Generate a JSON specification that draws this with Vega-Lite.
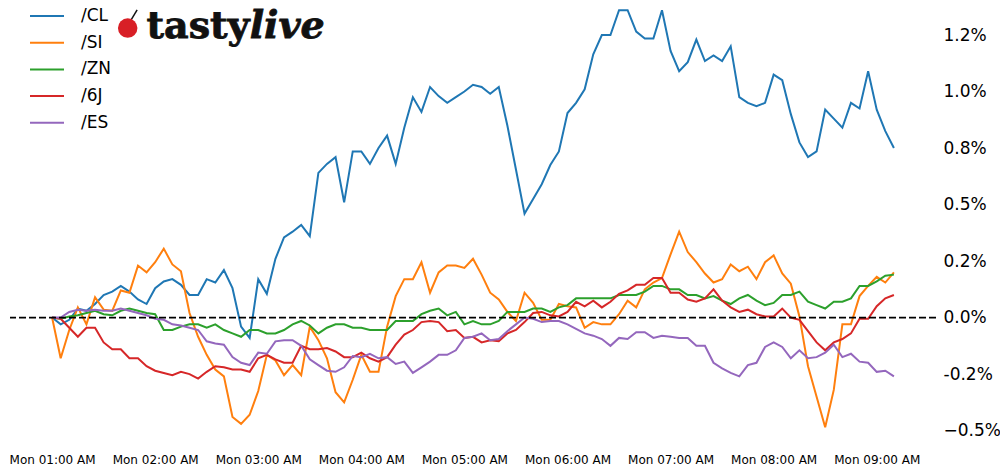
{
  "$schema": "https://vega.github.io/schema/vega-lite/v6.json",
  "autosize": {"type": "none"},
  "padding": {"left": 10, "top": 0, "right": 64, "bottom": 24},
  "width": 926,
  "height": 448,
  "background": "white",
  "config": {"view": {"stroke": null}, "font": "DejaVu Sans"},
  "data": {"values": [
    {"t":"2024-01-01T01:00","CL":0,"SI":0,"ZN":0,"6J":0,"ES":0},
    {"t":"2024-01-01T01:05","CL":-0.03,"SI":-0.18,"ZN":-0.005,"6J":-0.005,"ES":0},
    {"t":"2024-01-01T01:10","CL":-0.01,"SI":-0.055,"ZN":0.005,"6J":-0.045,"ES":0.025},
    {"t":"2024-01-01T01:15","CL":0.04,"SI":0.045,"ZN":0.01,"6J":-0.085,"ES":0.035},
    {"t":"2024-01-01T01:20","CL":0.03,"SI":-0.03,"ZN":0.02,"6J":-0.045,"ES":0.03},
    {"t":"2024-01-01T01:25","CL":0.06,"SI":0.09,"ZN":0.03,"6J":-0.045,"ES":0.035},
    {"t":"2024-01-01T01:30","CL":0.10,"SI":0.035,"ZN":0.015,"6J":-0.11,"ES":0.03},
    {"t":"2024-01-01T01:35","CL":0.115,"SI":0.03,"ZN":0.01,"6J":-0.14,"ES":0.03},
    {"t":"2024-01-01T01:40","CL":0.14,"SI":0.12,"ZN":0.03,"6J":-0.14,"ES":0.04},
    {"t":"2024-01-01T01:45","CL":0.115,"SI":0.11,"ZN":0.04,"6J":-0.18,"ES":0.03},
    {"t":"2024-01-01T01:50","CL":0.08,"SI":0.23,"ZN":0.03,"6J":-0.18,"ES":0.02},
    {"t":"2024-01-01T01:55","CL":0.06,"SI":0.20,"ZN":0.02,"6J":-0.215,"ES":0.01},
    {"t":"2024-01-01T02:00","CL":0.13,"SI":0.245,"ZN":0.015,"6J":-0.235,"ES":-0.005},
    {"t":"2024-01-01T02:05","CL":0.16,"SI":0.305,"ZN":-0.055,"6J":-0.245,"ES":-0.01},
    {"t":"2024-01-01T02:10","CL":0.17,"SI":0.235,"ZN":-0.055,"6J":-0.255,"ES":-0.03},
    {"t":"2024-01-01T02:15","CL":0.145,"SI":0.205,"ZN":-0.04,"6J":-0.24,"ES":-0.035},
    {"t":"2024-01-01T02:20","CL":0.10,"SI":0.02,"ZN":-0.03,"6J":-0.25,"ES":-0.045},
    {"t":"2024-01-01T02:25","CL":0.10,"SI":-0.085,"ZN":-0.03,"6J":-0.27,"ES":-0.055},
    {"t":"2024-01-01T02:30","CL":0.17,"SI":-0.165,"ZN":-0.045,"6J":-0.24,"ES":-0.105},
    {"t":"2024-01-01T02:35","CL":0.155,"SI":-0.23,"ZN":-0.03,"6J":-0.215,"ES":-0.115},
    {"t":"2024-01-01T02:40","CL":0.21,"SI":-0.26,"ZN":-0.055,"6J":-0.22,"ES":-0.12},
    {"t":"2024-01-01T02:45","CL":0.13,"SI":-0.44,"ZN":-0.07,"6J":-0.23,"ES":-0.175},
    {"t":"2024-01-01T02:50","CL":-0.04,"SI":-0.47,"ZN":-0.085,"6J":-0.23,"ES":-0.20},
    {"t":"2024-01-01T02:55","CL":-0.09,"SI":-0.43,"ZN":-0.055,"6J":-0.24,"ES":-0.21},
    {"t":"2024-01-01T03:00","CL":0.17,"SI":-0.325,"ZN":-0.055,"6J":-0.18,"ES":-0.155},
    {"t":"2024-01-01T03:05","CL":0.105,"SI":-0.165,"ZN":-0.07,"6J":-0.165,"ES":-0.16},
    {"t":"2024-01-01T03:10","CL":0.26,"SI":-0.19,"ZN":-0.07,"6J":-0.185,"ES":-0.105},
    {"t":"2024-01-01T03:15","CL":0.355,"SI":-0.255,"ZN":-0.055,"6J":-0.20,"ES":-0.10},
    {"t":"2024-01-01T03:20","CL":0.38,"SI":-0.21,"ZN":-0.03,"6J":-0.20,"ES":-0.10},
    {"t":"2024-01-01T03:25","CL":0.41,"SI":-0.255,"ZN":-0.015,"6J":-0.125,"ES":-0.125},
    {"t":"2024-01-01T03:30","CL":0.36,"SI":-0.04,"ZN":-0.035,"6J":-0.14,"ES":-0.185},
    {"t":"2024-01-01T03:35","CL":0.64,"SI":-0.10,"ZN":-0.07,"6J":-0.14,"ES":-0.21},
    {"t":"2024-01-01T03:40","CL":0.68,"SI":-0.18,"ZN":-0.045,"6J":-0.135,"ES":-0.235},
    {"t":"2024-01-01T03:45","CL":0.71,"SI":-0.33,"ZN":-0.03,"6J":-0.15,"ES":-0.24},
    {"t":"2024-01-01T03:50","CL":0.51,"SI":-0.375,"ZN":-0.03,"6J":-0.175,"ES":-0.22},
    {"t":"2024-01-01T03:55","CL":0.735,"SI":-0.275,"ZN":-0.045,"6J":-0.175,"ES":-0.17},
    {"t":"2024-01-01T04:00","CL":0.735,"SI":-0.165,"ZN":-0.045,"6J":-0.155,"ES":-0.175},
    {"t":"2024-01-01T04:05","CL":0.68,"SI":-0.24,"ZN":-0.055,"6J":-0.18,"ES":-0.16},
    {"t":"2024-01-01T04:10","CL":0.75,"SI":-0.24,"ZN":-0.055,"6J":-0.195,"ES":-0.18},
    {"t":"2024-01-01T04:15","CL":0.805,"SI":-0.04,"ZN":-0.055,"6J":-0.175,"ES":-0.175},
    {"t":"2024-01-01T04:20","CL":0.68,"SI":0.095,"ZN":-0.015,"6J":-0.12,"ES":-0.205},
    {"t":"2024-01-01T04:25","CL":0.84,"SI":0.17,"ZN":-0.015,"6J":-0.075,"ES":-0.195},
    {"t":"2024-01-01T04:30","CL":0.975,"SI":0.17,"ZN":-0.015,"6J":-0.055,"ES":-0.245},
    {"t":"2024-01-01T04:35","CL":0.91,"SI":0.245,"ZN":0.015,"6J":-0.02,"ES":-0.22},
    {"t":"2024-01-01T04:40","CL":1.02,"SI":0.11,"ZN":0.03,"6J":-0.015,"ES":-0.195},
    {"t":"2024-01-01T04:45","CL":0.98,"SI":0.20,"ZN":0.04,"6J":-0.02,"ES":-0.165},
    {"t":"2024-01-01T04:50","CL":0.95,"SI":0.23,"ZN":0.01,"6J":-0.06,"ES":-0.165},
    {"t":"2024-01-01T04:55","CL":0.975,"SI":0.23,"ZN":0.025,"6J":-0.055,"ES":-0.145},
    {"t":"2024-01-01T05:00","CL":1.0,"SI":0.22,"ZN":-0.03,"6J":-0.09,"ES":-0.09},
    {"t":"2024-01-01T05:05","CL":1.03,"SI":0.26,"ZN":-0.015,"6J":-0.085,"ES":-0.085},
    {"t":"2024-01-01T05:10","CL":1.02,"SI":0.19,"ZN":-0.03,"6J":-0.11,"ES":-0.07},
    {"t":"2024-01-01T05:15","CL":0.99,"SI":0.11,"ZN":-0.03,"6J":-0.10,"ES":-0.10},
    {"t":"2024-01-01T05:20","CL":1.02,"SI":0.08,"ZN":-0.015,"6J":-0.105,"ES":-0.095},
    {"t":"2024-01-01T05:25","CL":0.85,"SI":0.025,"ZN":0.025,"6J":-0.07,"ES":-0.06},
    {"t":"2024-01-01T05:30","CL":0.655,"SI":-0.015,"ZN":0.025,"6J":-0.055,"ES":-0.03},
    {"t":"2024-01-01T05:35","CL":0.46,"SI":0.11,"ZN":0.025,"6J":-0.02,"ES":0.0},
    {"t":"2024-01-01T05:40","CL":0.525,"SI":0.065,"ZN":0.04,"6J":0.02,"ES":-0.005},
    {"t":"2024-01-01T05:45","CL":0.59,"SI":-0.01,"ZN":0.04,"6J":0.025,"ES":-0.02},
    {"t":"2024-01-01T05:50","CL":0.675,"SI":-0.01,"ZN":0.025,"6J":0.01,"ES":-0.015},
    {"t":"2024-01-01T05:55","CL":0.735,"SI":0.06,"ZN":0.045,"6J":0.005,"ES":-0.015},
    {"t":"2024-01-01T06:00","CL":0.905,"SI":0.05,"ZN":0.055,"6J":0.025,"ES":-0.03},
    {"t":"2024-01-01T06:05","CL":0.95,"SI":0.045,"ZN":0.085,"6J":0.07,"ES":-0.05},
    {"t":"2024-01-01T06:10","CL":1.01,"SI":-0.045,"ZN":0.085,"6J":0.05,"ES":-0.07},
    {"t":"2024-01-01T06:15","CL":1.165,"SI":-0.02,"ZN":0.085,"6J":0.075,"ES":-0.08},
    {"t":"2024-01-01T06:20","CL":1.25,"SI":-0.03,"ZN":0.085,"6J":0.045,"ES":-0.095},
    {"t":"2024-01-01T06:25","CL":1.25,"SI":-0.03,"ZN":0.085,"6J":0.07,"ES":-0.125},
    {"t":"2024-01-01T06:30","CL":1.36,"SI":0.015,"ZN":0.10,"6J":0.105,"ES":-0.09},
    {"t":"2024-01-01T06:35","CL":1.36,"SI":0.075,"ZN":0.10,"6J":0.12,"ES":-0.095},
    {"t":"2024-01-01T06:40","CL":1.265,"SI":0.045,"ZN":0.10,"6J":0.145,"ES":-0.065},
    {"t":"2024-01-01T06:45","CL":1.235,"SI":0.125,"ZN":0.115,"6J":0.145,"ES":-0.065},
    {"t":"2024-01-01T06:50","CL":1.235,"SI":0.155,"ZN":0.14,"6J":0.175,"ES":-0.09},
    {"t":"2024-01-01T06:55","CL":1.36,"SI":0.175,"ZN":0.14,"6J":0.175,"ES":-0.08},
    {"t":"2024-01-01T07:00","CL":1.18,"SI":0.28,"ZN":0.125,"6J":0.11,"ES":-0.085},
    {"t":"2024-01-01T07:05","CL":1.09,"SI":0.38,"ZN":0.125,"6J":0.11,"ES":-0.09},
    {"t":"2024-01-01T07:10","CL":1.13,"SI":0.29,"ZN":0.10,"6J":0.08,"ES":-0.09},
    {"t":"2024-01-01T07:15","CL":1.23,"SI":0.245,"ZN":0.10,"6J":0.07,"ES":-0.125},
    {"t":"2024-01-01T07:20","CL":1.135,"SI":0.195,"ZN":0.085,"6J":0.085,"ES":-0.125},
    {"t":"2024-01-01T07:25","CL":1.16,"SI":0.155,"ZN":0.095,"6J":0.125,"ES":-0.20},
    {"t":"2024-01-01T07:30","CL":1.135,"SI":0.17,"ZN":0.075,"6J":0.075,"ES":-0.225},
    {"t":"2024-01-01T07:35","CL":1.20,"SI":0.235,"ZN":0.06,"6J":0.045,"ES":-0.245},
    {"t":"2024-01-01T07:40","CL":0.975,"SI":0.205,"ZN":0.085,"6J":0.025,"ES":-0.26},
    {"t":"2024-01-01T07:45","CL":0.95,"SI":0.225,"ZN":0.10,"6J":0.035,"ES":-0.21},
    {"t":"2024-01-01T07:50","CL":0.935,"SI":0.17,"ZN":0.075,"6J":0.015,"ES":-0.20},
    {"t":"2024-01-01T07:55","CL":0.95,"SI":0.245,"ZN":0.055,"6J":0.005,"ES":-0.13},
    {"t":"2024-01-01T08:00","CL":1.075,"SI":0.275,"ZN":0.065,"6J":0.005,"ES":-0.11},
    {"t":"2024-01-01T08:05","CL":1.05,"SI":0.195,"ZN":0.10,"6J":0.04,"ES":-0.13},
    {"t":"2024-01-01T08:10","CL":0.90,"SI":0.15,"ZN":0.10,"6J":0.0,"ES":-0.18},
    {"t":"2024-01-01T08:15","CL":0.775,"SI":0.005,"ZN":0.115,"6J":-0.01,"ES":-0.145},
    {"t":"2024-01-01T08:20","CL":0.71,"SI":-0.215,"ZN":0.07,"6J":-0.06,"ES":-0.18},
    {"t":"2024-01-01T08:25","CL":0.735,"SI":-0.35,"ZN":0.055,"6J":-0.11,"ES":-0.175},
    {"t":"2024-01-01T08:30","CL":0.92,"SI":-0.485,"ZN":0.04,"6J":-0.145,"ES":-0.155},
    {"t":"2024-01-01T08:35","CL":0.88,"SI":-0.32,"ZN":0.07,"6J":-0.11,"ES":-0.12},
    {"t":"2024-01-01T08:40","CL":0.84,"SI":-0.03,"ZN":0.07,"6J":-0.095,"ES":-0.175},
    {"t":"2024-01-01T08:45","CL":0.95,"SI":-0.03,"ZN":0.085,"6J":-0.07,"ES":-0.16},
    {"t":"2024-01-01T08:50","CL":0.925,"SI":0.095,"ZN":0.14,"6J":-0.005,"ES":-0.195},
    {"t":"2024-01-01T08:55","CL":1.09,"SI":0.14,"ZN":0.14,"6J":-0.005,"ES":-0.20},
    {"t":"2024-01-01T09:00","CL":0.92,"SI":0.18,"ZN":0.16,"6J":0.05,"ES":-0.24},
    {"t":"2024-01-01T09:05","CL":0.825,"SI":0.155,"ZN":0.185,"6J":0.085,"ES":-0.235},
    {"t":"2024-01-01T09:10","CL":0.75,"SI":0.20,"ZN":0.19,"6J":0.10,"ES":-0.26}
  ]},
  "layer": [
    {
      "transform": [{"fold": ["CL", "SI", "ZN", "6J", "ES"], "as": ["series", "value"]}],
      "mark": {"type": "line", "strokeWidth": 2, "interpolate": "linear"},
      "encoding": {
        "x": {
          "field": "t", "type": "temporal",
          "scale": {"domain": [
            {"year": 2024, "month": 1, "date": 1, "hours": 0, "minutes": 35, "seconds": 30},
            {"year": 2024, "month": 1, "date": 1, "hours": 9, "minutes": 34, "seconds": 30}
          ], "nice": false},
          "axis": {
            "title": null, "format": "%a %I:%M %p", "domain": false, "ticks": false, "grid": false,
            "labelFontSize": 12, "labelColor": "#000", "labelPadding": 6, "labelFont": "DejaVu Sans",
            "values": [
              {"year": 2024, "month": 1, "date": 1, "hours": 1},
              {"year": 2024, "month": 1, "date": 1, "hours": 2},
              {"year": 2024, "month": 1, "date": 1, "hours": 3},
              {"year": 2024, "month": 1, "date": 1, "hours": 4},
              {"year": 2024, "month": 1, "date": 1, "hours": 5},
              {"year": 2024, "month": 1, "date": 1, "hours": 6},
              {"year": 2024, "month": 1, "date": 1, "hours": 7},
              {"year": 2024, "month": 1, "date": 1, "hours": 8},
              {"year": 2024, "month": 1, "date": 1, "hours": 9}
            ],
            "labelOverlap": false
          }
        },
        "y": {
          "field": "value", "type": "quantitative",
          "scale": {"domain": [-0.577, 1.405], "nice": false, "zero": false},
          "axis": {
            "orient": "right", "title": null, "domain": false, "ticks": false, "grid": false,
            "values": [-0.5, -0.25, 0, 0.25, 0.5, 0.75, 1.0, 1.25],
            "labelExpr": "datum.value == 1.25 ? '1.2%' : datum.value == 0.75 ? '0.8%' : datum.value == 0.25 ? '0.2%' : datum.value == -0.25 ? '-0.2%' : format(datum.value, '.1f') + '%'",
            "labelFontSize": 17, "labelColor": "#000", "labelPadding": 7, "labelFont": "DejaVu Sans"
          }
        },
        "color": {
          "field": "series", "type": "nominal",
          "scale": {"domain": ["CL", "SI", "ZN", "6J", "ES"], "range": ["#1f77b4", "#ff7f0e", "#2ca02c", "#d62728", "#9467bd"]},
          "legend": {
            "title": null, "orient": "none", "legendX": 19, "legendY": -2,
            "symbolType": "stroke", "symbolStrokeWidth": 2, "symbolSize": 1156,
            "labelExpr": "'/' + datum.label", "labelFontSize": 17, "labelFont": "DejaVu Sans",
            "labelColor": "#000", "labelOffset": 16, "rowPadding": 0.7
          }
        }
      }
    },
    {
      "data": {"values": [{}]},
      "mark": {"type": "rule", "color": "#000", "strokeWidth": 1.6, "strokeDash": [7, 3]},
      "encoding": {"y": {"datum": 0, "type": "quantitative"}}
    },
    {
      "data": {"values": [{}]},
      "mark": {"type": "rule", "color": "#111", "strokeWidth": 1.5},
      "encoding": {
        "x": {"datum": {"year": 2024, "month": 1, "date": 1, "hours": 1, "minutes": 46}, "type": "temporal"},
        "y": {"datum": 1.317, "type": "quantitative"},
        "x2": {"datum": {"year": 2024, "month": 1, "date": 1, "hours": 1, "minutes": 49, "seconds": 30}},
        "y2": {"datum": 1.361}
      }
    },
    {
      "data": {"values": [{}]},
      "mark": {"type": "point", "shape": "circle", "filled": true, "color": "#d81f26", "size": 380, "opacity": 1},
      "encoding": {
        "x": {"datum": {"year": 2024, "month": 1, "date": 1, "hours": 1, "minutes": 44}, "type": "temporal"},
        "y": {"datum": 1.281, "type": "quantitative"}
      }
    },
    {
      "data": {"values": [{}]},
      "mark": {"type": "text", "text": "tasty", "font": "DejaVu Serif", "fontWeight": "bold", "fontSize": 38, "align": "right", "baseline": "alphabetic", "color": "#111", "stroke": "#111", "strokeWidth": 0.8},
      "encoding": {
        "x": {"datum": {"year": 2024, "month": 1, "date": 1, "hours": 2, "minutes": 55}, "type": "temporal"},
        "y": {"datum": 1.235, "type": "quantitative"}
      }
    },
    {
      "data": {"values": [{}]},
      "mark": {"type": "text", "text": "live", "font": "DejaVu Serif", "fontWeight": "bold", "fontStyle": "italic", "fontSize": 38, "align": "left", "baseline": "alphabetic", "color": "#111", "stroke": "#111", "strokeWidth": 0.8},
      "encoding": {
        "x": {"datum": {"year": 2024, "month": 1, "date": 1, "hours": 2, "minutes": 55}, "type": "temporal"},
        "y": {"datum": 1.235, "type": "quantitative"}
      }
    }
  ]
}
